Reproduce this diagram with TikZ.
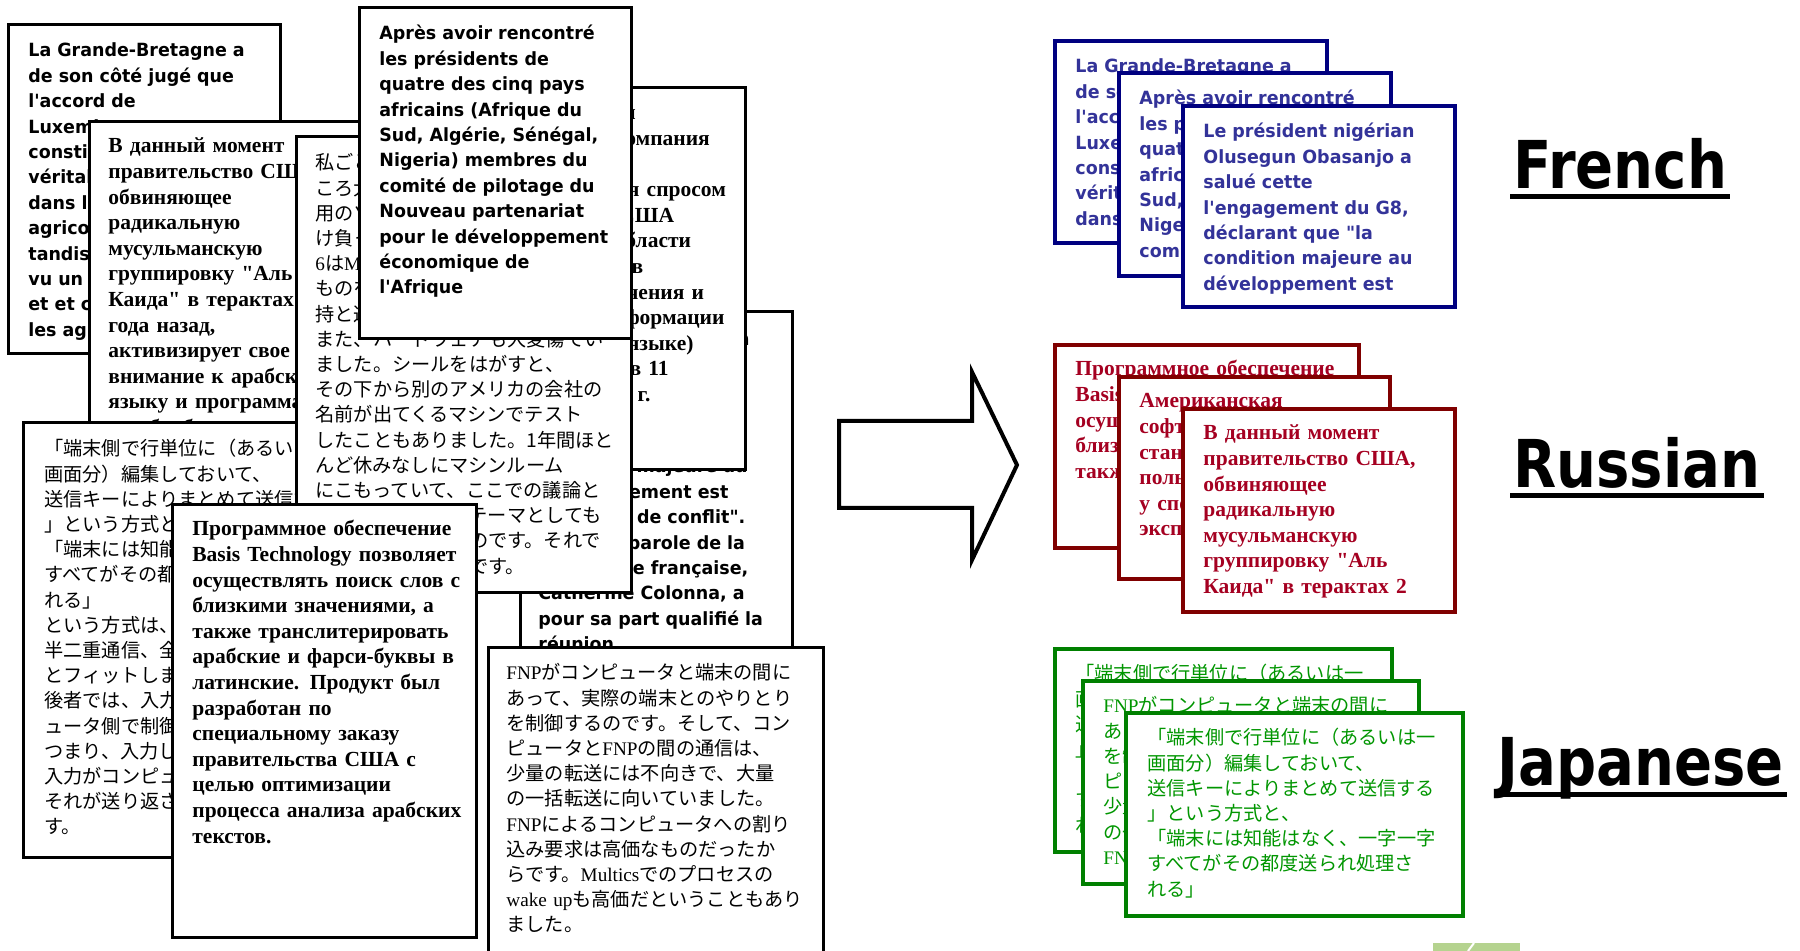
\documentclass[tikz,border=0pt]{standalone}
\usepackage{fontspec}
\newfontfamily\frfont[FakeStretch=0.96]{DejaVu Sans}
\newfontfamily\rufont{Liberation Serif}
\newfontfamily\jpfont{Noto Sans CJK JP}
\newfontfamily\tmfont{Liberation Serif}
\newfontfamily\langfont[FakeStretch=0.85]{DejaVu Sans}
\newcommand\tm[1]{{\tmfont #1}}

\definecolor{frline}{RGB}{0,0,128}
\definecolor{frink}{RGB}{51,51,153}
\definecolor{ruline}{RGB}{128,0,0}
\definecolor{ruink}{RGB}{165,0,33}
\definecolor{jpline}{RGB}{0,128,0}
\definecolor{jpink}{RGB}{0,150,0}
\definecolor{barcol}{RGB}{181,211,143}

\tikzset{
  card/.style={draw=black, fill=white, line width=1.5pt},
  panel/.style={fill=white, line width=2.3pt},
  txt/.style={anchor=base west, inner sep=0pt, text width=200pt, align=left},
  frtxt/.style={txt, font=\frfont\bfseries\fontsize{9.1}{12.7}\selectfont},
  rutxt/.style={txt, font=\rufont\bfseries\fontsize{10.75}{12.8}\selectfont},
  jptxt/.style={txt, font=\jpfont\fontsize{9.6}{12.6}\selectfont},
  lang/.style={anchor=base west, inner sep=0pt, font=\langfont\bfseries\fontsize{33}{37}\selectfont},
  ul/.style={line width=2.5pt},
  bigarrow/.style={draw=black, fill=white, line width=2pt, line join=miter}
}

\begin{document}
\begin{tikzpicture}[x=0.5pt, y=-0.5pt]
  \useasboundingbox (0,0) rectangle (1800,951);
  \clip (0,0) rectangle (1800,951);

  \draw [card] (8,25) rectangle (280,354);
  \node [frtxt] (frA) at (28,57) {La Grande-Bretagne a\\de son côté jugé que\\l'accord de\\Luxembourg\\constituait une\\véritable avancée\\dans la politique\\agricole commune,\\tandis que Paris a\\vu un compromis\\et et consolidé\\les agriculteurs.};

  \draw [card] (89,122) rectangle (361,530);
  \node [rutxt] (ruB) at (108,153) {В данный момент\\правительство США,\\обвиняющее\\радикальную\\мусульманскую\\группировку "Аль\\Каида" в терактах 2\\года назад,\\активизирует свое\\внимание к арабскому\\языку и программам\\по обработке};

  \draw [card] (520,312) rectangle (792,720);
  \node [frtxt] (frH) at (538,346) {Le président nigérian\\Olusegun Obasanjo a\\salué cette\\l'engagement du G8,\\déclarant que "la\\condition majeure au\\développement est\\l'absence de conflit".\\La porte-parole de la\\présidente française,\\Catherine Colonna, a\\pour sa part qualifié la\\réunion};

  \draw [card] (472,88) rectangle (745,470);
  \node [rutxt] (ruG) at (492,120) {Американская\\софтверная компания\\становится\\она пользуется спросом\\у спецслужб США\\экспертов в области\\программистов\\средств извлечения и\\обработки информации\\(на арабском языке)\\после терактов 11\\сентября 2001 г.};

  \draw [card] (23,423) rectangle (360,857);
  \node [jptxt] (jpC) at (44,456) {「端末側で行単位に（あるいは一\\画面分）編集しておいて、\\送信キーによりまとめて送信する\\」という方式と、\\「端末には知能はなく、一字一字\\すべてがその都度送られ処理さ\\れる」\\という方式は、それぞれ\\半二重通信、全二重通信\\とフィットします。前者では\\後者では、入力した文字をコンピ\\ュータ側で制御します。\\つまり、入力した文字は、その\\入力がコンピュータに送られ、\\それが送り返されて表示されま\\す。};

  \draw [card] (296,137) rectangle (631,593);
  \node [jptxt] (jpE) at (315,170) {私ごとですが、大学院生の\\ころ大型計算機センターで業務\\用のソフトウェア開発を請\\け負っていました。その\tm{ACOS-}\\\tm{6}は\tm{Multics}の影響を受けた\\ものを使っていて、システム維\\持と運用も担当していました。\\また、ハードウェアも大変傷てい\\ました。シールをはがすと、\\その下から別のアメリカの会社の\\名前が出てくるマシンでテスト\\したこともありました。1年間ほと\\んど休みなしにマシンルーム\\にこもっていて、ここでの議論と\\いうよりは、研究テーマとしても\\面白いものだったのです。それで\\今の私があるわけです。};

  \draw [card] (359,8) rectangle (631,339);
  \node [frtxt] (frF) at (379,40) {Après avoir rencontré\\les présidents de\\quatre des cinq pays\\africains (Afrique du\\Sud, Algérie, Sénégal,\\Nigeria) membres du\\comité de pilotage du\\Nouveau partenariat\\pour le développement\\économique de\\l'Afrique};

  \draw [card] (172,505) rectangle (476,937);
  \node [rutxt] (ruD) at (192,536) {Программное обеспечение\\Basis Technology позволяет\\осуществлять поиск слов с\\близкими значениями, а\\также транслитерировать\\арабские и фарси-буквы в\\латинские. Продукт был\\разработан по\\специальному заказу\\правительства США с\\целью оптимизации\\процесса анализа арабских\\текстов.};

  \draw [card] (488,648) rectangle (823,990);
  \node [jptxt] (jpI) at (506,680) {\tm{FNP}がコンピュータと端末の間に\\あって、実際の端末とのやりとり\\を制御するのです。そして、コン\\ピュータと\tm{FNP}の間の通信は、\\少量の転送には不向きで、大量\\の一括転送に向いていました。\\\tm{FNP}によるコンピュータへの割り\\込み要求は高価なものだったか\\らです。\tm{Multics}でのプロセスの\\\tm{wake up}も高価だということもあり\\ました。};

  \draw [bigarrow] (839,421) -- (972,421) -- (972,372) -- (1017,465) -- (972,560) -- (972,508) -- (839,508) -- cycle;

  \draw [panel, draw=frline] (1055,41) rectangle (1327,243);
  \node [frtxt, text=frink] (frP1) at (1075,73) {La Grande-Bretagne a\\de son côté jugé que\\l'accord de\\Luxembourg\\constituait une\\véritable avancée\\dans la politique};
  \draw [panel, draw=frline] (1119,73) rectangle (1391,276);
  \node [frtxt, text=frink] (frP2) at (1139,105) {Après avoir rencontré\\les présidents de\\quatre des cinq pays\\africains (Afrique du\\Sud, Algérie, Sénégal,\\Nigeria) membres du\\comité de pilotage du};
  \draw [panel, draw=frline] (1183,106) rectangle (1455,307);
  \node [frtxt, text=frink] (frP3) at (1203,138) {Le président nigérian\\Olusegun Obasanjo a\\salué cette\\l'engagement du G8,\\déclarant que "la\\condition majeure au\\développement est};

  \draw [panel, draw=ruline] (1055,345) rectangle (1359,548);
  \node [rutxt, text=ruink] (ruP1) at (1075,376) {Программное обеспечение\\Basis Technology позволяет\\осуществлять поиск слов с\\близкими значениями, а\\также транслитерировать};
  \draw [panel, draw=ruline] (1119,377) rectangle (1390,579);
  \node [rutxt, text=ruink] (ruP2) at (1139,408) {Американская\\софтверная компания\\становится\\пользуется спросом\\у спецслужб США\\экспертов в области};
  \draw [panel, draw=ruline] (1183,409) rectangle (1455,612);
  \node [rutxt, text=ruink] (ruP3) at (1203,440) {В данный момент\\правительство США,\\обвиняющее\\радикальную\\мусульманскую\\группировку "Аль\\Каида" в терактах 2};

  \draw [panel, draw=jpline] (1055,649) rectangle (1392,852);
  \node [jptxt, text=jpink] (jpP1) at (1075,681) {「端末側で行単位に（あるいは一\\画面分）編集しておいて、\\送信キーによりまとめて送信する\\」という方式と、\\「端末には知能はなく、一字一字\\すべてがその都度送られ処理さ\\れる」};
  \draw [panel, draw=jpline] (1083,681) rectangle (1419,884);
  \node [jptxt, text=jpink] (jpP2) at (1103,713) {\tm{FNP}がコンピュータと端末の間に\\あって、実際の端末とのやりとり\\を制御するのです。そして、コン\\ピュータと\tm{FNP}の間の通信は、\\少量の転送には不向きで、大量\\の一括転送に向いていました。\\\tm{FNP}によるコンピュータへの割り};
  \draw [panel, draw=jpline] (1126,713) rectangle (1463,916);
  \node [jptxt, text=jpink] (jpP3) at (1147,745) {「端末側で行単位に（あるいは一\\画面分）編集しておいて、\\送信キーによりまとめて送信する\\」という方式と、\\「端末には知能はなく、一字一字\\すべてがその都度送られ処理さ\\れる」};

  \node [lang] (lblFr) at (1513,189) {French};
  \draw [ul] ([xshift=-1.5pt,yshift=-4pt]lblFr.base west) -- ([xshift=1.5pt,yshift=-4pt]lblFr.base east);
  \node [lang] (lblRu) at (1513,488) {Russian};
  \draw [ul] ([xshift=-1.5pt,yshift=-4pt]lblRu.base west) -- ([xshift=1.5pt,yshift=-4pt]lblRu.base east);
  \node [lang] (lblJp) at (1497,785) {Japanese};
  \draw [ul] ([xshift=-1.5pt,yshift=-4.5pt]lblJp.base west) -- ([xshift=1.5pt,yshift=-4.5pt]lblJp.base east);

  \fill [barcol] (1433,943) rectangle (1520,951);
  \draw [white, line width=1pt] (1468,951) -- (1474,943);
\end{tikzpicture}
\end{document}
